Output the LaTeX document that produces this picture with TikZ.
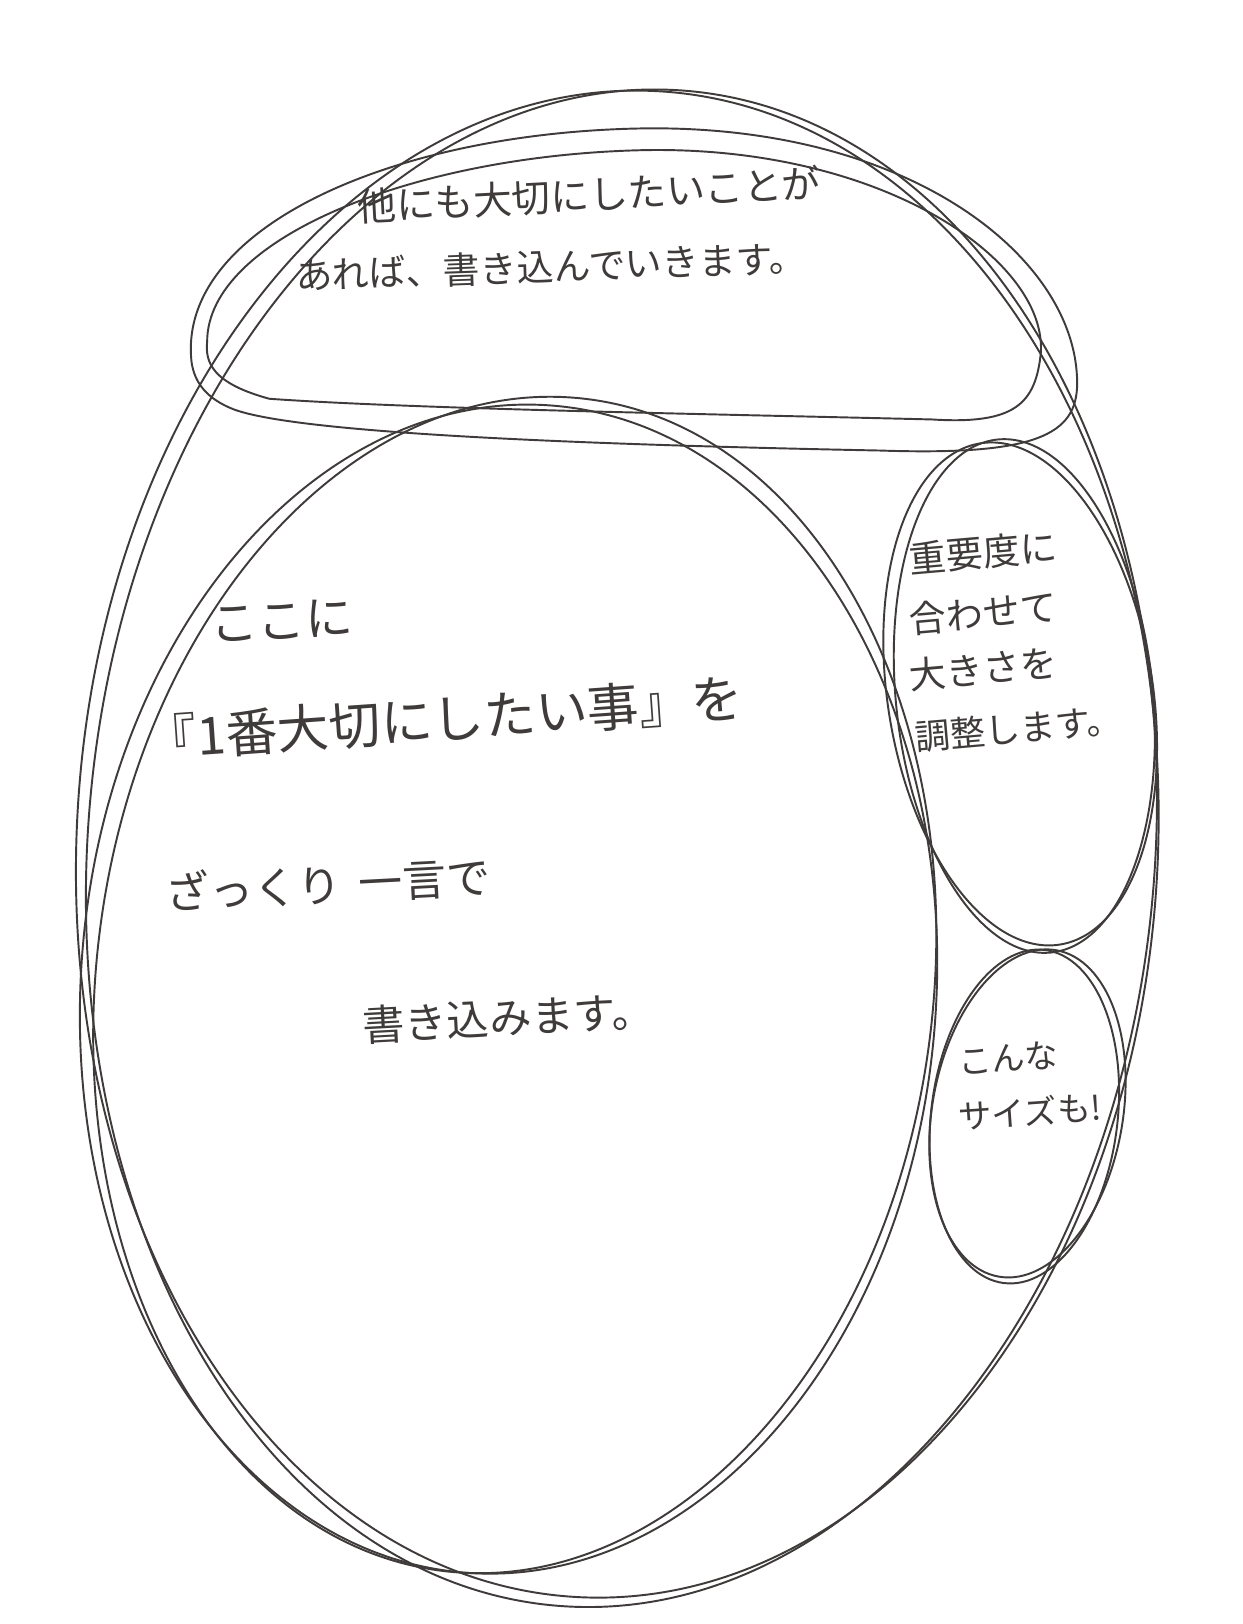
\documentclass[tikz,border=0pt]{standalone}
\usepackage{fontspec}
\setmainfont{Noto Sans CJK JP}
\usetikzlibrary{calc}
\definecolor{pencil}{HTML}{3F3B3A}

\begin{document}
\begin{tikzpicture}[x=0.02072cm, y=-0.02072cm,
        stroke/.style={draw=pencil, line width=1.1pt, line join=round},
        memo/.style={text=pencil, inner sep=0pt, anchor=west}]
    \useasboundingbox (0,0) rectangle (1200,1568);
    \fill [white] (0,0) rectangle (1200,1568);
    \coordinate (whole) at (596, 815);
    \coordinate (main) at (491, 955);
    \coordinate (mid) at (985, 670);
    \coordinate (small) at (992, 1075);
    \draw [stroke] (whole) ellipse [x radius=522, y radius=728, rotate=-3];
    \draw [stroke] ($(whole)+(4,4)$) ellipse [x radius=515, y radius=734, rotate=-5];
    \draw [stroke] (main) ellipse [x radius=413, y radius=565, rotate=-4];
    \draw [stroke] ($(main)+(6,-4)$) ellipse [x radius=404, y radius=570, rotate=-7];
    \draw [stroke] (185,350) .. controls (170,220) and (380,128) .. (620,124)
        .. controls (880,120) and (1040,250) .. (1040,370)
        .. controls (1040,420) and (1000,440) .. (850,435)
        .. controls (600,430) and (290,420) .. (225,395)
        .. controls (200,385) and (188,370) .. (185,350);
    \draw [stroke] (200,330) .. controls (200,230) and (400,150) .. (620,145)
        .. controls (850,140) and (1010,250) .. (1005,340)
        .. controls (1000,390) and (980,410) .. (900,405)
        .. controls (700,400) and (400,395) .. (260,385)
        .. controls (205,370) and (198,350) .. (200,330);
    \draw [stroke] (mid) ellipse [x radius=128, y radius=245, rotate=9];
    \draw [stroke] ($(mid)+(4,2)$) ellipse [x radius=124, y radius=249, rotate=6];
    \draw [stroke] (small) ellipse [x radius=92, y radius=160, rotate=-10];
    \draw [stroke] ($(small)+(-3,3)$) ellipse [x radius=90, y radius=162, rotate=-7];
    \node [memo, rotate=3] (others1) at (345, 200) {\fontsize{22pt}{26pt}\selectfont 他にも大切にしたいことが};
    \node [memo, rotate=2] (others2) at (285, 266) {\fontsize{21pt}{25pt}\selectfont あれば、書き込んでいきます。};
    \node [memo, rotate=3] (here) at (203, 603) {\fontsize{27pt}{31pt}\selectfont ここに};
    \node [memo, rotate=4] (first) at (140, 714) {\fontsize{29.5pt}{34pt}\selectfont 『1番大切にしたい事』を};
    \node [memo, rotate=3] (word) at (160, 862) {\fontsize{25pt}{29pt}\selectfont ざっくり\hspace{0.4em}一言で};
    \node [memo, rotate=3] (write) at (350, 990) {\fontsize{24pt}{28pt}\selectfont 書き込みます。};
    \node [memo, rotate=5] (size1) at (878, 540) {\fontsize{21pt}{25pt}\selectfont 重要度に};
    \node [memo, rotate=5] (size2) at (878, 598) {\fontsize{21pt}{25pt}\selectfont 合わせて};
    \node [memo, rotate=5] (size3) at (878, 652) {\fontsize{21pt}{25pt}\selectfont 大きさを};
    \node [memo, rotate=5] (size4) at (883, 712) {\fontsize{20pt}{24pt}\selectfont 調整します。};
    \node [memo, rotate=4] (tiny1) at (925, 1025) {\fontsize{19pt}{23pt}\selectfont こんな};
    \node [memo, rotate=4] (tiny2) at (925, 1078) {\fontsize{19pt}{23pt}\selectfont サイズも!};
\end{tikzpicture}
\end{document}
